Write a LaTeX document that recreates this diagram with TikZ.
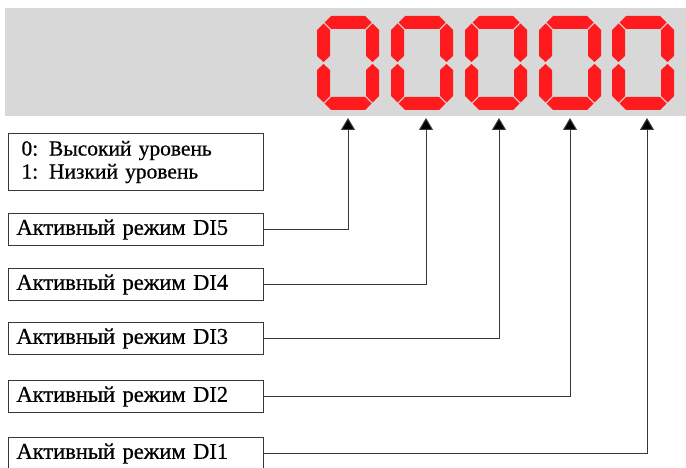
\documentclass[tikz,border=0pt]{standalone}
\usepackage{fontspec}
\setmainfont{Liberation Serif}
\newfontfamily\lserif[FakeBold=0.6]{Liberation Serif}
\usetikzlibrary{arrows.meta}
\definecolor{segred}{RGB}{255,26,30}
\definecolor{bandgray}{RGB}{216,216,216}
\definecolor{linegray}{RGB}{55,55,55}
\tikzset{
  modebox/.style={draw=linegray, line width=1pt, anchor=north west,
    text width=239pt, inner xsep=8pt, inner ysep=0pt, minimum height=32pt,
    align=left, font=\lserif\fontsize{22.5}{24}\selectfont},
  conn/.style={draw=linegray, line width=1pt, -{Triangle[width=14pt,length=12pt,fill=black]}},
  seg/.style={fill=segred, draw=none}
}
\newcommand{\sevenzero}{%
  % W=62, H=94, t=13, h=6.5, g=1
  \fill[seg] (7.5,6.5) -- (14,0) -- (48,0) -- (54.5,6.5) -- (48,13) -- (14,13) -- cycle;
  \fill[seg] (7.5,87.5) -- (14,81) -- (48,81) -- (54.5,87.5) -- (48,94) -- (14,94) -- cycle;
  \fill[seg] (6.5,7.5) -- (13,14) -- (13,40) -- (6.5,46) -- (0,40) -- (0,14) -- cycle;
  \fill[seg] (6.5,48) -- (13,54) -- (13,80) -- (6.5,86.5) -- (0,80) -- (0,54) -- cycle;
  \fill[seg] (55.5,7.5) -- (62,14) -- (62,40) -- (55.5,46) -- (49,40) -- (49,14) -- cycle;
  \fill[seg] (55.5,48) -- (62,54) -- (62,80) -- (55.5,86.5) -- (49,80) -- (49,54) -- cycle;
}
\begin{document}
\begin{tikzpicture}[x=1pt, y=-1pt]
  \useasboundingbox (0,0) rectangle (686,468);
  \fill[bandgray] (5,8) rectangle (686,116);
  \foreach \dx in {317,391,465,539,612} {
    \begin{scope}[shift={(\dx,16)}]
      \sevenzero
    \end{scope}
  }
  \node[draw=linegray, line width=1pt, anchor=north west, text width=239pt,
        inner xsep=8pt, inner ysep=0pt, minimum height=57pt, align=left,
        font=\lserif\fontsize{21.5}{23}\selectfont] (legend) at (8,133)
        {\hspace*{5pt}0: Высокий уровень\\\hspace*{5pt}1: Низкий уровень};
  \node[modebox] (b5) at (8,213) {Активный режим DI5};
  \node[modebox] (b4) at (8,268) {Активный режим DI4};
  \node[modebox] (b3) at (8,322) {Активный режим DI3};
  \node[modebox] (b2) at (8,380) {Активный режим DI2};
  \node[modebox] (b1) at (8,437) {Активный режим DI1};
  \coordinate (a5) at (348,118);
  \coordinate (a4) at (426,118);
  \coordinate (a3) at (499,118);
  \coordinate (a2) at (570,118);
  \coordinate (a1) at (647,118);
  \draw[conn] (b5.east) -| (a5);
  \draw[conn] (b4.east) -| (a4);
  \draw[conn] (b3.east) -| (a3);
  \draw[conn] (b2.east) -| (a2);
  \draw[conn] (b1.east) -| (a1);
\end{tikzpicture}
\end{document}
